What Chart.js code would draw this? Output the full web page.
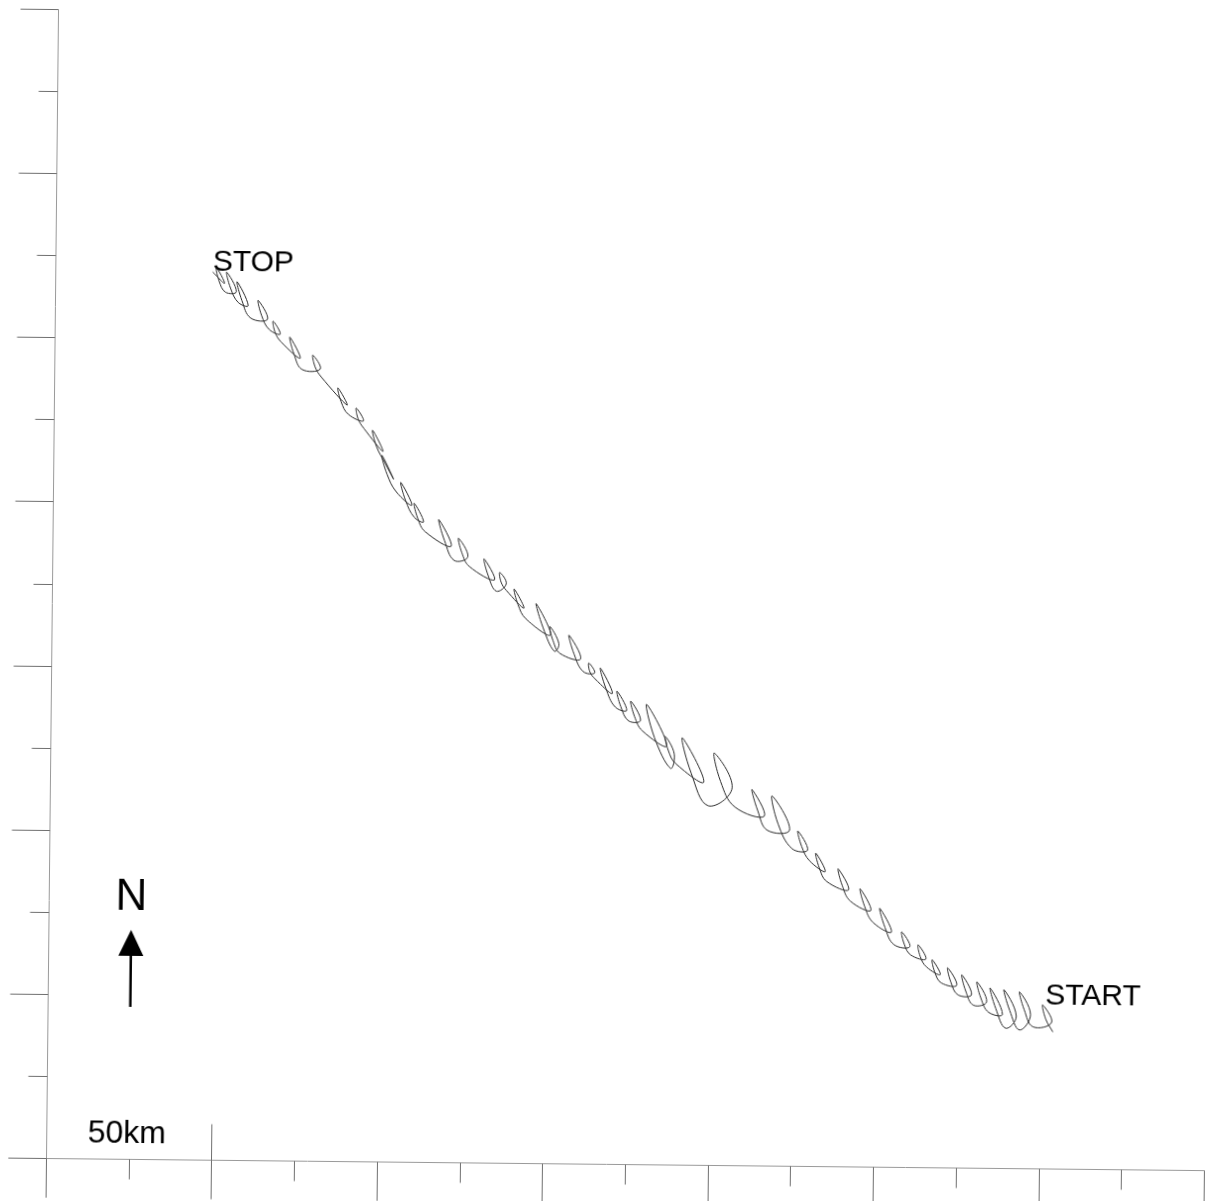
<!DOCTYPE html>
<html>
<head>
<meta charset="utf-8">
<title>Drifter track</title>
<script src="https://cdn.jsdelivr.net/npm/chart.js@4.4.1/dist/chart.umd.min.js"></script>
<style>
  html, body { margin: 0; padding: 0; background: #fff; }
  #wrap { width: 1207px; height: 1201px; position: relative; overflow: hidden; background: #fff; }
  /* the sheet sits a little skewed, pivot on the axis origin */
  #track { display: block; transform: rotate(0.6deg); transform-origin: 46px 1158px; }
</style>
</head>
<body>
<div id="wrap"><canvas id="track" width="1207" height="1201"></canvas></div>
<script>
// drifter positions in km (east, north) from START to STOP, one line per loop
const trackX = [
  303.9, 301.7, 300.7, 303.5,
  297.9, 295.2, 293.7, 297.1,
  293.8, 290.8, 289.0, 292.8,
  289.6, 286.6, 284.8, 288.6,
  284.4, 282.0, 280.8, 283.8,
  279.8, 277.4, 276.2, 279.2,
  275.1, 272.9, 271.9, 274.7,
  270.0, 268.0, 267.2, 269.7,
  265.5, 263.6, 262.9, 265.3,
  260.7, 258.7, 257.9, 260.4,
  255.6, 252.8, 251.2, 254.8,
  249.2, 246.6, 245.2, 248.5,
  242.3, 239.8, 238.5, 241.7,
  235.1, 232.8, 231.7, 234.6,
  229.8, 227.4, 226.2, 229.2,
  224.5, 220.2, 218.3, 223.7,
  217.0, 214.0, 212.2, 216.0,
  207.1, 202.7, 200.7, 206.2,
  199.0, 193.8, 191.0, 197.6,
  189.0, 186.8, 185.8, 188.6,
  187.5, 182.6, 180.1, 186.3,
  178.9, 176.5, 175.3, 178.3,
  174.7, 172.3, 171.1, 174.1,
  170.6, 167.7, 166.0, 169.7,
  164.4, 162.8, 162.5, 164.3,
  160.8, 158.0, 156.4, 160.0,
  153.8, 151.6, 150.6, 153.4,
  152.0, 148.6, 146.4, 150.8,
  143.3, 140.9, 139.7, 142.7,
  137.3, 135.7, 135.3, 137.3,
  134.3, 131.8, 130.5, 133.7,
  126.1, 123.8, 122.7, 125.6,
  121.5, 118.5, 116.7, 120.5,
  112.6, 110.3, 109.2, 112.1,
  109.3, 106.6, 105.1, 108.5,
  103.7, 100.9,  99.3, 102.9,
  100.2,  97.7,  96.4,  99.6,
   93.8,  92.0,  91.4,  93.6,
   89.0,  86.8,  85.8,  88.6,
   80.7,  78.8,  78.1,  80.4,
   74.9,  72.4,  71.1,  74.3,
   68.4,  66.6,  66.0,  68.2,
   64.8,  62.5,  61.4,  64.3,
   59.2,  56.5,  55.0,  58.4,
   55.4,  53.0,  51.8,  54.8,
   51.5,  49.5,  48.7,  51.2,
   47.6
];
const trackY = [
   41.6,  45.5,  49.8,  44.5,
   43.1,  48.2,  53.7,  46.8,
   42.1,  48.0,  54.3,  46.3,
   42.6,  48.5,  54.8,  46.8,
   47.4,  51.8,  56.6,  50.6,
   49.5,  53.9,  58.7,  52.7,
   52.6,  56.5,  60.8,  55.5,
   56.2,  59.5,  63.2,  58.7,
   61.0,  64.1,  67.7,  63.4,
   64.6,  67.9,  71.6,  67.1,
   67.7,  73.0,  78.7,  71.5,
   74.4,  79.3,  84.6,  78.0,
   80.8,  85.5,  90.6,  84.2,
   86.7,  90.8,  95.3,  89.7,
   93.0,  97.3, 102.0,  96.2,
   96.6, 104.1, 112.6, 102.3,
  102.1, 108.1, 114.5, 106.4,
  109.1, 116.8, 125.5, 114.9,
  109.4, 119.2, 130.0, 116.6,
  122.2, 126.1, 130.4, 125.1,
  120.7, 129.9, 140.1, 127.5,
  132.0, 136.3, 141.0, 135.2,
  135.0, 139.3, 144.0, 138.2,
  139.2, 144.9, 151.0, 143.3,
  147.7, 149.9, 152.5, 149.5,
  149.9, 155.2, 160.9, 153.7,
  155.3, 159.2, 163.5, 158.2,
  156.0, 163.0, 170.4, 160.9,
  165.8, 170.1, 174.8, 169.0,
  174.4, 176.9, 179.8, 176.4,
  174.1, 178.8, 183.9, 177.5,
  181.5, 185.6, 190.1, 184.5,
  183.3, 189.3, 195.7, 187.6,
  192.0, 196.1, 200.6, 195.0,
  196.3, 201.4, 206.9, 200.0,
  204.1, 209.4, 215.1, 207.9,
  212.9, 217.6, 222.7, 216.3,
  223.2, 226.1, 229.4, 225.5,
  227.5, 231.3, 235.5, 230.3,
  238.8, 241.9, 245.4, 241.2,
  241.0, 245.7, 250.8, 244.4,
  249.4, 252.3, 255.6, 251.7,
  253.1, 257.3, 261.9, 256.2,
  256.5, 261.8, 267.5, 260.3,
  261.2, 265.6, 270.4, 264.5,
  264.3, 267.8, 271.7, 267.0,
  270.4
];

// tick marks every 25 km, long ones every 50 km
const tickKm = [0, 25, 50, 75, 100, 125, 150, 175, 200, 225, 250, 275, 300, 325, 350];
const scaleBarKm = 50;
const endLabels = ['START', 'STOP'];

const FONT = '"Liberation Sans", Arial, Helvetica, sans-serif';

const mapDecor = {
  id: 'mapDecor',
  afterDatasetsDraw(chart) {
    const { ctx, chartArea: a, scales: { x, y } } = chart;
    const x0 = Math.round(x.getPixelForValue(0)) + 0.5;
    const y0 = Math.round(y.getPixelForValue(0)) + 0.5;
    ctx.save();

    // axes, both run on past the origin
    ctx.strokeStyle = '#9a9a9a';
    ctx.lineWidth = 1;
    ctx.beginPath();
    ctx.moveTo(x0, Math.round(y.getPixelForValue(350)) + 0.5);
    ctx.lineTo(x0, y0 + 39);
    ctx.moveTo(x0 - 38, y0);
    ctx.lineTo(Math.round(x.getPixelForValue(350)) + 0.5, y0);
    ctx.stroke();

    ctx.strokeStyle = '#6f6f6f';
    ctx.beginPath();
    tickKm.forEach(v => {
      const major = v % 50 === 0;
      const px = Math.round(x.getPixelForValue(v)) + 0.5;
      const py = Math.round(y.getPixelForValue(v)) + 0.5;
      ctx.moveTo(px, y0);
      ctx.lineTo(px, y0 + (major ? 39 : 20));
      ctx.moveTo(x0, py);
      ctx.lineTo(x0 - (major ? 38 : 19), py);
    });
    // end of the 50 km bar
    const sb = Math.round(x.getPixelForValue(scaleBarKm)) + 0.5;
    ctx.moveTo(sb, y0);
    ctx.lineTo(sb, y0 - 36);
    ctx.stroke();

    ctx.fillStyle = '#000';
    ctx.textBaseline = 'alphabetic';

    // scale bar label
    ctx.font = '32px ' + FONT;
    ctx.textAlign = 'left';
    ctx.fillText(scaleBarKm + 'km', x0 + 41, a.bottom - 16);

    // START / STOP next to the two ends of the track
    ctx.font = '30px ' + FONT;
    const n = trackX.length - 1;
    ctx.fillText(endLabels[0], x.getPixelForValue(trackX[0]) - 8, y.getPixelForValue(trackY[0]) - 27);
    ctx.fillText(endLabels[1], x.getPixelForValue(trackX[n]), y.getPixelForValue(trackY[n]) - 1);

    // north arrow
    const ax = x.getPixelForValue(25);
    ctx.font = '44px ' + FONT;
    ctx.textAlign = 'center';
    ctx.fillText('N', ax, a.bottom - 249);
    ctx.beginPath();
    ctx.moveTo(ax, a.bottom - 229);
    ctx.lineTo(ax + 12.5, a.bottom - 203);
    ctx.lineTo(ax - 12.5, a.bottom - 203);
    ctx.closePath();
    ctx.fill();
    ctx.strokeStyle = '#000';
    ctx.lineWidth = 2.5;
    ctx.beginPath();
    ctx.moveTo(ax, a.bottom - 205);
    ctx.lineTo(ax, a.bottom - 152);
    ctx.stroke();

    ctx.restore();
  }
};

new Chart(document.getElementById('track'), {
  type: 'scatter',
  data: {
    datasets: [{
      label: 'track',
      data: trackX.map((v, i) => ({ x: v, y: trackY[i] })),
      showLine: true,
      tension: 0.4,
      borderColor: '#2a2a2a',
      borderWidth: 1,
      pointRadius: 0,
      fill: false
    }]
  },
  options: {
    responsive: false,
    animation: false,
    events: [],
    layout: { padding: { left: 46, right: 3, top: 9, bottom: 43 } },
    scales: {
      x: { type: 'linear', min: 0, max: 350, display: false },
      y: { type: 'linear', min: 0, max: 350, display: false }
    },
    plugins: {
      legend: { display: false },
      tooltip: { enabled: false }
    }
  },
  plugins: [mapDecor]
});
</script>
</body>
</html>
